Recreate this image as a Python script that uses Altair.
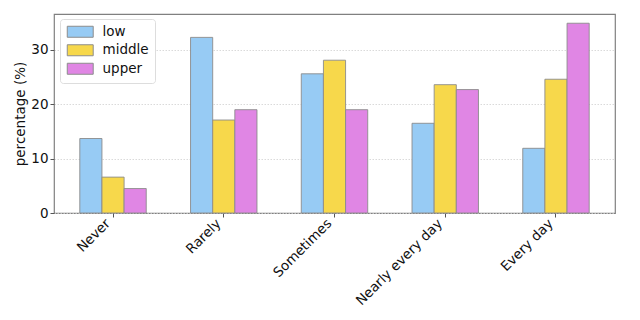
import altair as alt
import pandas as pd

categories = ["Never", "Rarely", "Sometimes", "Nearly every day", "Every day"]
groups = ["low", "middle", "upper"]
low = [13.7, 32.3, 25.6, 16.5, 11.9]
middle = [6.6, 17.1, 28.1, 23.6, 24.6]
upper = [4.5, 19.0, 19.0, 22.7, 34.9]
colors = ["#97cbf4", "#f7d84b", "#e086e4"]

rows = []
for g, vals in zip(groups, [low, middle, upper]):
    for c, v in zip(categories, vals):
        rows.append({"category": c, "group": g, "value": v})
df = pd.DataFrame(rows)

font = "DejaVu Sans"

chart = alt.Chart(df).mark_bar(
    stroke="#8c8c8c", strokeWidth=1, strokeOpacity=0.9
).encode(
    x=alt.X("category:N", sort=categories, title=None,
            scale=alt.Scale(paddingInner=0.4, paddingOuter=0.233),
            axis=alt.Axis(labelAngle=-45, labelAlign="right", labelBaseline="bottom",
                          bandPosition=0.5, ticks=True, tickSize=4, tickColor="#555",
                          labelFontSize=13.5, labelColor="#111", labelFont=font,
                          labelPadding=9, domain=False, grid=False)),
    xOffset=alt.XOffset("group:N", sort=groups,
                        scale=alt.Scale(paddingInner=0, paddingOuter=0)),
    y=alt.Y("value:Q", title="percentage (%)",
            scale=alt.Scale(domain=[0, 36.6], nice=False, zero=True),
            axis=alt.Axis(values=[0, 10, 20, 30], tickSize=4, tickColor="#555",
                          labelFontSize=13.5, labelColor="#111", labelFont=font,
                          labelPadding=2,
                          titleFontSize=13.5, titleFontWeight="normal", titleFont=font,
                          titleColor="#111", titlePadding=3, domain=False,
                          grid=True, gridColor="#d0d0d0", gridDash=[1.5, 1.5],
                          gridWidth=0.8)),
    color=alt.Color("group:N", sort=groups,
                    scale=alt.Scale(domain=groups, range=colors),
                    legend=alt.Legend(
                        title=None, orient="none", legendX=6, legendY=5,
                        symbolType="M-1,-1H3.72V1H-1Z", symbolSize=121,
                        symbolStrokeColor="#8c8c8c", symbolStrokeWidth=1,
                        symbolOpacity=1,
                        labelFontSize=13.5, labelFont=font, labelColor="#111",
                        labelOffset=23, rowPadding=2.5,
                        fillColor="white", strokeColor="#dddddd",
                        cornerRadius=3, padding=6)),
).properties(
    width=561, height=199,
    padding={"left": 54, "top": 14, "right": 25, "bottom": 107},
    autosize=alt.AutoSizeParams(type="none"),
).configure_view(
    stroke="#808080", strokeWidth=1.2
)

chart.save("out.html", embed_options={"renderer": "svg", "actions": False})
